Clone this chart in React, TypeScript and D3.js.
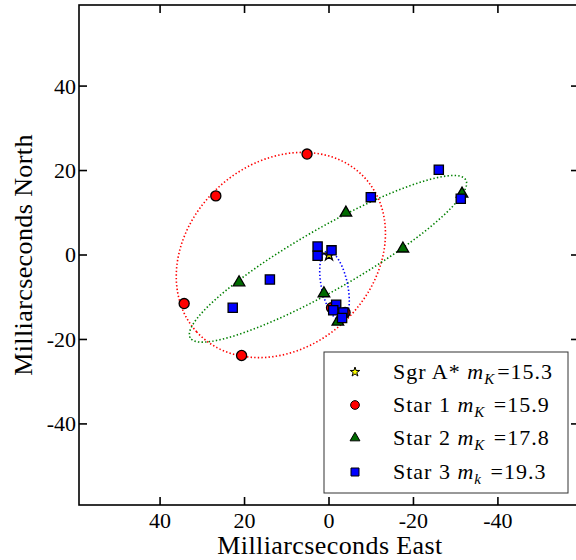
import React from 'react';
import * as d3 from 'd3';

const W = 576;
const H = 560;

// Data (milliarcseconds East / North)
const sgrX = [0];
const sgrY = [0];
const star1X = [5.2, 26.8, 34.3, 20.7, -0.6, -3.8];
const star1Y = [23.9, 14.0, -11.5, -23.8, -12.5, -13.6];
const star2X = [-4.0, 21.3, 1.2, -2.1, -17.5, -31.5];
const star2Y = [10.0, -6.5, -9.1, -15.8, 1.5, 14.5];
const star3X = [-26.0, -9.9, -31.2, 2.7, 2.7, -0.6, 14.0, 22.8, -1.7, -1.0, -3.4, -3.1];
const star3Y = [20.2, 13.7, 13.3, 2.0, -0.2, 1.1, -5.8, -12.5, -11.8, -13.1, -13.6, -14.9];

// Orbit fits: centre x, centre y, semi-major, semi-minor, angle (deg)
const orbit1 = [11.4, 0.0, 27.0, 21.8, -42.4];
const orbit2 = [0.24, -0.9, 37.6, 7.3, -29.8];
const orbit3 = [-1.3, -7.3, 8.4, 3.1, 78];

const xTicks = [40, 20, 0, -20, -40];
const yTicks = [40, 20, 0, -20, -40];
const xDomain = [59.2, -59.2];
const yDomain = [-59.2, 59.2];

const legendLabels = [
  { name: 'Sgr A* ', sub: 'K', val: '=15.3' },
  { name: 'Star 1 ', sub: 'K', val: ' =15.9' },
  { name: 'Star 2 ', sub: 'K', val: ' =17.8' },
  { name: 'Star 3 ', sub: 'k', val: ' =19.3' },
];

const FONT = '"Liberation Serif", "DejaVu Serif", serif';

export default function App() {
  const left = 79, right = 579, top = 5, bottom = 505;
  const x = d3.scaleLinear().domain(xDomain).range([left, right]);
  const y = d3.scaleLinear().domain(yDomain).range([bottom, top]);

  const ellipsePath = (p: number[]) => {
    const [cx, cy, a, b, ang] = p;
    const th = (ang * Math.PI) / 180;
    const ts = d3.range(0, 360, 2).map((d) => (d * Math.PI) / 180);
    const pts: [number, number][] = ts.map((t) => {
      const ex = cx + a * Math.cos(t) * Math.cos(th) - b * Math.sin(t) * Math.sin(th);
      const ey = cy + a * Math.cos(t) * Math.sin(th) + b * Math.sin(t) * Math.cos(th);
      return [x(ex), y(ey)];
    });
    return d3.line().curve(d3.curveLinearClosed)(pts) as string;
  };

  const starPath = d3.symbol().type(d3.symbolStar).size(38)() as string;
  const triPath = d3.symbol().type(d3.symbolTriangle).size(58)() as string;
  const sqPath = d3.symbol().type(d3.symbolSquare).size(85)() as string;
  const circPath = d3.symbol().type(d3.symbolCircle).size(80)() as string;

  const markers = [
    { xs: sgrX, ys: sgrY, d: starPath, fill: '#ffff00' },
    { xs: star1X, ys: star1Y, d: circPath, fill: '#ff0000' },
    { xs: star2X, ys: star2Y, d: triPath, fill: '#006a00' },
    { xs: star3X, ys: star3Y, d: sqPath, fill: '#0000ff' },
  ];

  const legStar = d3.symbol().type(d3.symbolStar).size(28)() as string;
  const legTri = d3.symbol().type(d3.symbolTriangle).size(42)() as string;
  const legSq = d3.symbol().type(d3.symbolSquare).size(64)() as string;
  const legCirc = d3.symbol().type(d3.symbolCircle).size(60)() as string;
  const legPaths = [legStar, legCirc, legTri, legSq];

  const tl = 8;
  const legX = 324, legY = 352, legW = 244, legH = 141;
  const rowY = [372, 405, 438, 472];

  return (
    <div style={{ position: 'absolute', left: 0, top: 0 }}>
      <svg width={W} height={H} style={{ display: 'block', background: '#fff' }}>
        {/* orbits */}
        <path d={ellipsePath(orbit1)} fill="none" stroke="#ff0000" strokeWidth={1.6} strokeDasharray="1.4 2.2" />
        <path d={ellipsePath(orbit2)} fill="none" stroke="#008000" strokeWidth={1.6} strokeDasharray="1.4 2.2" />
        <path d={ellipsePath(orbit3)} fill="none" stroke="#0000ff" strokeWidth={1.6} strokeDasharray="1.4 2.2" />

        {/* markers */}
        {markers.map((m, i) => (
          <g key={i}>
            {m.xs.map((v, j) => (
              <path key={j} d={m.d} transform={`translate(${x(v)},${y(m.ys[j])})`} fill={m.fill} stroke="#000" strokeWidth={1.3} />
            ))}
          </g>
        ))}

        {/* frame */}
        <rect x={left} y={top} width={right - left} height={bottom - top} fill="none" stroke="#000" strokeWidth={1.6} />

        {/* ticks */}
        {xTicks.map((t) => (
          <g key={'x' + t}>
            <line x1={x(t)} x2={x(t)} y1={bottom} y2={bottom - tl} stroke="#000" strokeWidth={1.6} />
            <line x1={x(t)} x2={x(t)} y1={top} y2={top + tl} stroke="#000" strokeWidth={1.6} />
            <text x={x(t)} y={528} textAnchor="middle" fontFamily={FONT} fontSize={22}>{String(t)}</text>
          </g>
        ))}
        {yTicks.map((t) => (
          <g key={'y' + t}>
            <line x1={left} x2={left + tl} y1={y(t)} y2={y(t)} stroke="#000" strokeWidth={1.6} />
            <line x1={right} x2={right - tl} y1={y(t)} y2={y(t)} stroke="#000" strokeWidth={1.6} />
            <text x={76} y={y(t)} dy="0.34em" textAnchor="end" fontFamily={FONT} fontSize={22}>{String(t)}</text>
          </g>
        ))}

        {/* axis labels */}
        <text x={(left + right) / 2 + 1} y={554} textAnchor="middle" fontFamily={FONT} fontSize={26} letterSpacing={0.4}>Milliarcseconds East</text>
        <text transform={`translate(32,${(top + bottom) / 2}) rotate(-90)`} textAnchor="middle" fontFamily={FONT} fontSize={26} letterSpacing={0.4}>Milliarcseconds North</text>

        {/* legend */}
        <rect x={legX} y={legY} width={legW} height={legH} fill="#fff" stroke="#333" strokeWidth={1} />
        {legendLabels.map((l, i) => (
          <g key={i}>
            <path d={legPaths[i]} transform={`translate(355,${rowY[i]})`} fill={markers[i].fill} stroke="#000" strokeWidth={1} />
            <text x={393} y={rowY[i] + 7} fontFamily={FONT} fontSize={22} letterSpacing={1}>
              {l.name}
              <tspan fontStyle="italic">m</tspan>
              <tspan fontStyle="italic" fontSize={15} dy={5}>{l.sub}</tspan>
              <tspan dy={-5} dx={2}>{l.val}</tspan>
            </text>
          </g>
        ))}
      </svg>
    </div>
  );
}
